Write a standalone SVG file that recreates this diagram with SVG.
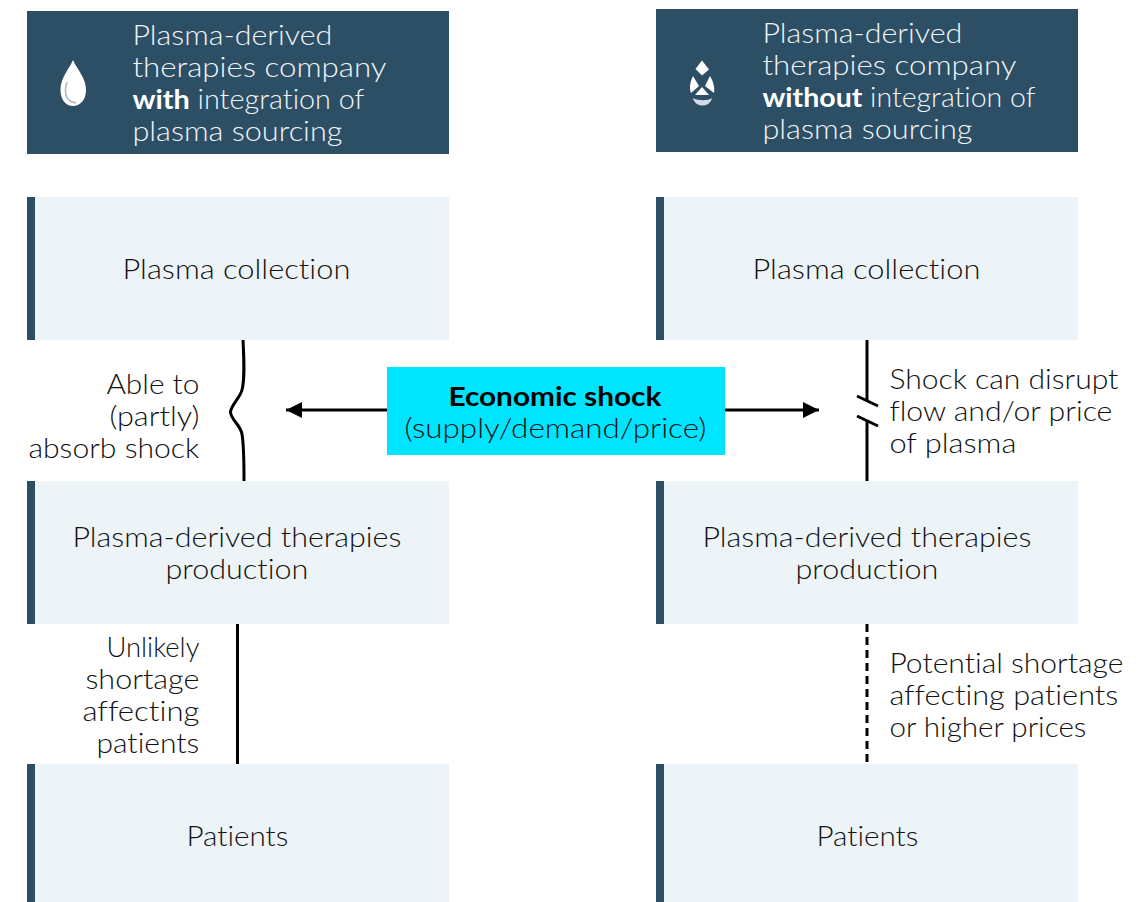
<svg xmlns="http://www.w3.org/2000/svg" width="1148" height="902" viewBox="0 0 1148 902">
<style>
text{font-family:"Lato","Noto Sans","Liberation Sans",sans-serif;font-size:26.500px;font-weight:300;fill:#111;font-variant-ligatures:none;transform:translate(-.6px,1px)}
.h text{fill:#f2f5f7}
.hd{fill:#2c4f66}
.bx{fill:#edf4f7}
.bar{fill:#2c4f66}
.ln{fill:none;stroke:#000;stroke-width:3}
.b{font-weight:700}
tspan.b{fill:#fff;font-weight:700}
.ic{fill:#fff}
</style>
<defs>
<marker id="ah" viewBox="0 0 16 16" refX="16" refY="8" markerUnits="userSpaceOnUse" markerWidth="16" markerHeight="16" orient="auto"><path d="M0 0L16 8L0 16Z" fill="#000"/></marker>
</defs>
<g id="connectors">
<path class="ln" d="M243 340C244 360 245 378 242 390C240 398 231 405 230.500 412C231 420 240 424 242 434C244 446 244 465 244 481"/>
<line class="ln" x1="387" y1="410" x2="286" y2="410" marker-end="url(#ah)"/>
<line class="ln" x1="725" y1="410" x2="819" y2="410" marker-end="url(#ah)"/>
<line class="ln" x1="867" y1="340" x2="867" y2="401"/>
<line class="ln" x1="867" y1="421" x2="867" y2="481"/>
<line class="ln" x1="857" y1="396" x2="878" y2="406"/>
<line class="ln" x1="857" y1="416" x2="878" y2="426"/>
<line class="ln" x1="237.500" y1="624" x2="237.500" y2="764"/>
<line class="ln" x1="867" y1="624" x2="867" y2="764" stroke-dasharray="8 5"/>
</g>
<g id="header-left" class="h">
<rect class="hd" x="27" y="11" width="422" height="143"/>
<path class="ic" d="M73 60C70 68 60.500 77 60.500 90C60.500 100 66 106 73 106C80 106 86 100 86 90C86 77 76 68 73 60Z"/>
<path d="M67 82C63 94 67 102 76 103" fill="none" stroke="#a9b8c2" stroke-width="1.500"/>
<text x="133" y="44" textLength="200" lengthAdjust="spacingAndGlyphs">Plasma-derived</text>
<text x="133" y="76" textLength="254" lengthAdjust="spacingAndGlyphs">therapies company</text>
<text x="133" y="108" textLength="232" lengthAdjust="spacingAndGlyphs"><tspan class="b">with</tspan> integration of</text>
<text x="133" y="140" textLength="210" lengthAdjust="spacingAndGlyphs">plasma sourcing</text>
</g>
<g id="header-right" class="h">
<rect class="hd" x="656" y="9" width="422" height="143"/>
<path class="ic" d="M702 60.500L709 69.500L702 75.500L695.500 69Z"/>
<path class="ic" d="M693 76L699 86L691 93C689 88 690 82 693 76Z"/>
<path class="ic" d="M710 76L705 86L714 93C715 87 713 81 710 76Z"/>
<path class="ic" d="M702 87L709 95L695 95Z"/>
<path d="M693 98C698 101 708 101 712 98C710 108 695 108 693 98Z" fill="#d5dde2"/>
<text x="763" y="42" textLength="200" lengthAdjust="spacingAndGlyphs">Plasma-derived</text>
<text x="763" y="74" textLength="254" lengthAdjust="spacingAndGlyphs">therapies company</text>
<text x="763" y="106" textLength="273" lengthAdjust="spacingAndGlyphs"><tspan class="b">without</tspan> integration of</text>
<text x="763" y="138" textLength="210" lengthAdjust="spacingAndGlyphs">plasma sourcing</text>
</g>
<g id="collection-left"><rect class="bx" x="27" y="197" width="422" height="143"/><rect class="bar" x="27" y="197" width="8" height="143"/>
<text x="123" y="278" textLength="228" lengthAdjust="spacingAndGlyphs">Plasma collection</text></g>
<g id="collection-right"><rect class="bx" x="656" y="197" width="422" height="143"/><rect class="bar" x="656" y="197" width="8" height="143"/>
<text x="753" y="278" textLength="228" lengthAdjust="spacingAndGlyphs">Plasma collection</text></g>
<g id="production-left"><rect class="bx" x="27" y="481" width="422" height="143"/><rect class="bar" x="27" y="481" width="8" height="143"/>
<text x="73" y="546" textLength="329" lengthAdjust="spacingAndGlyphs">Plasma-derived therapies</text>
<text x="166" y="578" textLength="143" lengthAdjust="spacingAndGlyphs">production</text></g>
<g id="production-right"><rect class="bx" x="656" y="481" width="422" height="143"/><rect class="bar" x="656" y="481" width="8" height="143"/>
<text x="703" y="546" textLength="329" lengthAdjust="spacingAndGlyphs">Plasma-derived therapies</text>
<text x="796" y="578" textLength="143" lengthAdjust="spacingAndGlyphs">production</text></g>
<g id="patients-left"><rect class="bx" x="27" y="764" width="422" height="138"/><rect class="bar" x="27" y="764" width="8" height="138"/>
<text x="187" y="845" textLength="102" lengthAdjust="spacingAndGlyphs">Patients</text></g>
<g id="patients-right"><rect class="bx" x="656" y="764" width="422" height="138"/><rect class="bar" x="656" y="764" width="8" height="138"/>
<text x="817" y="845" textLength="102" lengthAdjust="spacingAndGlyphs">Patients</text></g>
<g id="shock">
<rect x="387" y="367" width="338" height="88" fill="#00e5ff"/>
<text class="b" x="449" y="405" textLength="213" lengthAdjust="spacingAndGlyphs" style="fill:#000">Economic shock</text>
<text x="405" y="437" textLength="302" lengthAdjust="spacingAndGlyphs">(supply/demand/price)</text>
</g>
<g id="labels">
<text x="107" y="393" textLength="93" lengthAdjust="spacingAndGlyphs">Able to</text>
<text x="110" y="425" textLength="90" lengthAdjust="spacingAndGlyphs">(partly)</text>
<text x="29" y="457" textLength="171" lengthAdjust="spacingAndGlyphs">absorb shock</text>
<text x="890" y="388" textLength="229" lengthAdjust="spacingAndGlyphs">Shock can disrupt</text>
<text x="890" y="420" textLength="223" lengthAdjust="spacingAndGlyphs">flow and/or price</text>
<text x="890" y="452" textLength="127" lengthAdjust="spacingAndGlyphs">of plasma</text>
<text x="107" y="656" textLength="93" lengthAdjust="spacingAndGlyphs">Unlikely</text>
<text x="86" y="688" textLength="114" lengthAdjust="spacingAndGlyphs">shortage</text>
<text x="83" y="720" textLength="117" lengthAdjust="spacingAndGlyphs">affecting</text>
<text x="97" y="752" textLength="103" lengthAdjust="spacingAndGlyphs">patients</text>
<text x="890" y="672" textLength="234" lengthAdjust="spacingAndGlyphs">Potential shortage</text>
<text x="890" y="704" textLength="229" lengthAdjust="spacingAndGlyphs">affecting patients</text>
<text x="890" y="736" textLength="197" lengthAdjust="spacingAndGlyphs">or higher prices</text>
</g>
</svg>
